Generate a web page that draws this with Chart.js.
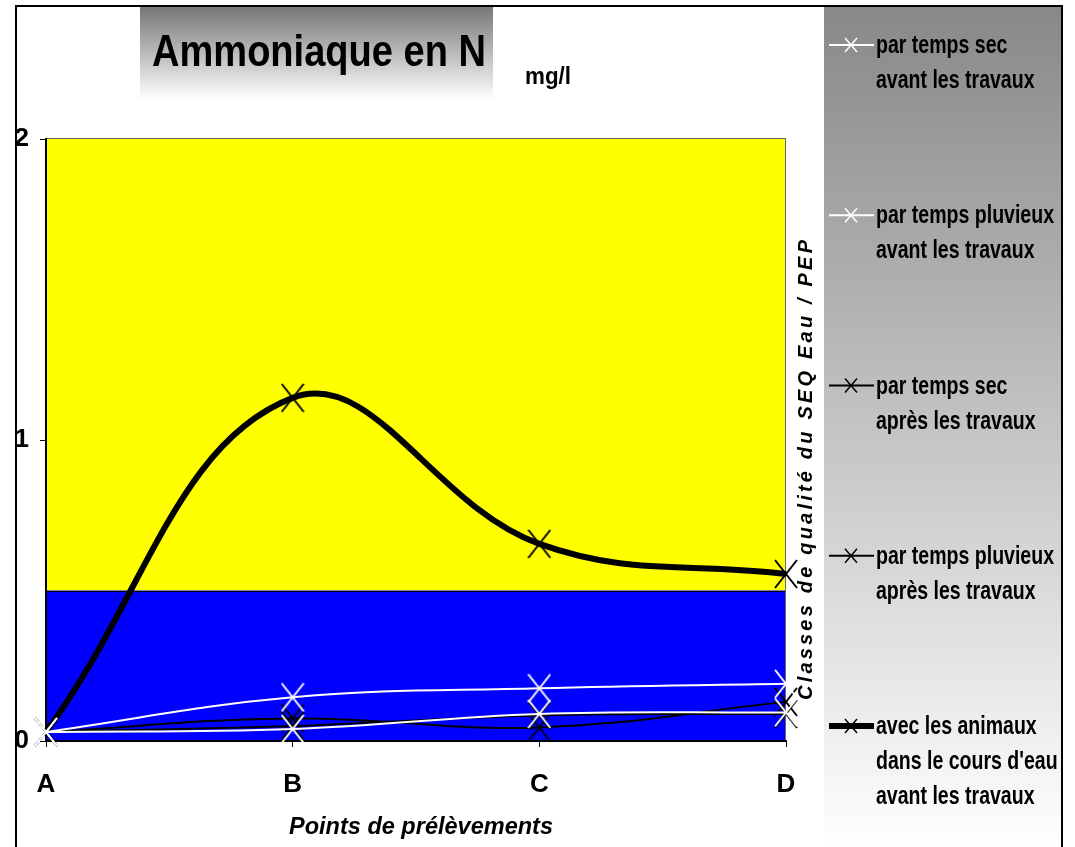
<!DOCTYPE html>
<html>
<head>
<meta charset="utf-8">
<script src="https://cdn.jsdelivr.net/npm/chart.js"></script>
<style>
  html, body { margin: 0; padding: 0; background: #fff; }
  #wrap { width: 1075px; height: 847px; }
</style>
</head>
<body>
<div id="wrap"><canvas id="c" width="1075" height="847"></canvas></div>
<script>
// données (mg/l)
const categories = ['A', 'B', 'C', 'D'];
const secAvant = [0.03, 0.145, 0.175, 0.19];
const pluvieuxAvant = [0.03, 0.04, 0.09, 0.095];
const secApres = [0.03, 0.075, 0.045, 0.13];
const pluvieuxApres = [0.03, 0.05, 0.085, 0.09];
const animauxAvant = [0.03, 1.14, 0.655, 0.555];

const seriesLabels = [
    ['par temps sec', 'avant les travaux'],
    ['par temps pluvieux', 'avant les travaux'],
    ['par temps sec', 'après les travaux'],
    ['par temps pluvieux', 'après les travaux'],
    ['avec les animaux', "dans le cours d'eau", 'avant les travaux']
];
const yTicks = [0, 1, 2];
const classBounds = [0, 0.5, 2];

const FONT = "'Liberation Sans', Arial, sans-serif";

// marqueur en X (plus haut que large)
function makeCross(w, h, color, lw) {
    const cv = document.createElement('canvas');
    cv.width = w; cv.height = h;
    const g = cv.getContext('2d');
    g.strokeStyle = color;
    g.lineWidth = lw;
    g.beginPath();
    g.moveTo(1, 1); g.lineTo(w - 1, h - 1);
    g.moveTo(w - 1, 1); g.lineTo(1, h - 1);
    g.stroke();
    return cv;
}
const whiteX = makeCross(24, 30, '#fff', 2);
const blackX = makeCross(24, 30, '#000', 2);

function drawFitted(ctx, text, x, y, width, align) {
    const w = ctx.measureText(text).width;
    ctx.save();
    ctx.translate(x, y);
    ctx.scale(width / w, 1);
    ctx.textAlign = align;
    ctx.fillText(text, 0, 0);
    ctx.restore();
}

const decorPlugin = {
    id: 'decor',
    beforeDraw(chart) {
        const ctx = chart.ctx;
        const area = chart.chartArea;
        const y = chart.scales.y;
        ctx.save();
        ctx.fillStyle = '#fff';
        ctx.fillRect(0, 0, chart.width, chart.height);

        // cadre du titre
        let g = ctx.createLinearGradient(0, 7, 0, 100);
        g.addColorStop(0, '#777');
        g.addColorStop(1, '#fff');
        ctx.fillStyle = g;
        ctx.fillRect(140, 7, 353, 93);

        // panneau de légende
        g = ctx.createLinearGradient(0, 7, 0, 847);
        g.addColorStop(0, '#888');
        g.addColorStop(1, '#fff');
        ctx.fillStyle = g;
        ctx.fillRect(824, 7, 238, 840);

        // classes de qualité
        const yMid = y.getPixelForValue(classBounds[1]);
        const yTop = y.getPixelForValue(classBounds[2]);
        const yBot = y.getPixelForValue(classBounds[0]);
        ctx.fillStyle = '#ffff00';
        ctx.fillRect(area.left, yTop, area.right - area.left, yMid - yTop);
        ctx.fillStyle = '#0000ff';
        ctx.fillRect(area.left, yMid, area.right - area.left, yBot - yMid);
        ctx.strokeStyle = '#000';
        ctx.lineWidth = 1;
        ctx.beginPath();
        ctx.moveTo(area.left, Math.round(yMid) + 0.5);
        ctx.lineTo(area.right, Math.round(yMid) + 0.5);
        ctx.stroke();
        ctx.strokeStyle = '#666';
        ctx.strokeRect(area.left + 0.5, yTop - 0.5, area.right - area.left - 1, yBot - yTop);
        ctx.restore();
    },
    afterDraw(chart) {
        const ctx = chart.ctx;
        ctx.save();
        ctx.fillStyle = '#000';
        ctx.textBaseline = 'alphabetic';

        ctx.font = 'bold 44px ' + FONT;
        drawFitted(ctx, 'Ammoniaque en N', 152, 66, 334, 'left');
        ctx.font = 'bold 24px ' + FONT;
        drawFitted(ctx, 'mg/l', 525, 84, 46, 'left');

        ctx.font = 'italic bold 24px ' + FONT;
        drawFitted(ctx, 'Points de prélèvements', 421, 834, 264, 'center');

        // titre vertical espacé
        const vt = 'Classes de qualité du SEQ Eau / PEP';
        ctx.font = 'italic bold 20px ' + FONT;
        const total = 460;
        const w0 = ctx.measureText(vt).width;
        const sp = (total - w0) / (vt.length - 1);
        ctx.translate(806, 470);
        ctx.rotate(-Math.PI / 2);
        ctx.textBaseline = 'middle';
        ctx.textAlign = 'left';
        let cx = -total / 2;
        for (const ch of vt) {
            ctx.fillText(ch, cx, 0);
            cx += ctx.measureText(ch).width + sp;
        }
        ctx.setTransform(1, 0, 0, 1, 0, 0);

        // légende
        ctx.font = 'bold 25px ' + FONT;
        ctx.textBaseline = 'alphabetic';
        const sx = 178 / ctx.measureText('par temps pluvieux').width;
        chart.data.datasets.forEach((ds, i) => {
            const base = 53 + i * 170.25;
            const my = base - 8;
            ctx.strokeStyle = ds.borderColor;
            ctx.lineWidth = ds.borderWidth;
            ctx.beginPath();
            ctx.moveTo(829, my);
            ctx.lineTo(874, my);
            ctx.stroke();
            ctx.lineWidth = 1.5;
            ctx.beginPath();
            ctx.moveTo(845, my - 7); ctx.lineTo(857, my + 7);
            ctx.moveTo(857, my - 7); ctx.lineTo(845, my + 7);
            ctx.stroke();
            ctx.fillStyle = '#000';
            seriesLabels[i].forEach((line, k) => {
                ctx.save();
                ctx.translate(876, base + k * 35);
                ctx.scale(sx, 1);
                ctx.fillText(line, 0, 0);
                ctx.restore();
            });
        });

        // cadre
        ctx.strokeStyle = '#000';
        ctx.lineWidth = 2;
        ctx.strokeRect(16, 6, 1046, 850);
        ctx.restore();
    }
};

function lineSet(label, data, color, width) {
    return {
        label: label,
        data: data,
        borderColor: color,
        borderWidth: width,
        pointStyle: color === '#fff' ? whiteX : blackX,
        pointRadius: 12,
        tension: 0.4,
        fill: false,
        clip: false
    };
}

const tickFont = { family: FONT, size: 26, weight: 'bold' };

new Chart(document.getElementById('c'), {
    type: 'line',
    data: {
        labels: categories,
        datasets: [
            lineSet(seriesLabels[0].join(' '), secAvant, '#fff', 2),
            lineSet(seriesLabels[1].join(' '), pluvieuxAvant, '#fff', 2),
            lineSet(seriesLabels[2].join(' '), secApres, '#000', 2),
            lineSet(seriesLabels[3].join(' '), pluvieuxApres, '#000', 2),
            lineSet(seriesLabels[4].join(' '), animauxAvant, '#000', 6)
        ]
    },
    options: {
        responsive: false,
        devicePixelRatio: 1,
        animation: false,
        layout: { padding: { top: 139, right: 289, bottom: 0, left: 0 } },
        plugins: {
            legend: { display: false },
            tooltip: { enabled: false }
        },
        scales: {
            x: {
                type: 'category',
                offset: false,
                afterFit: s => { s.height = 106; },
                ticks: { color: '#000', font: tickFont, padding: 22, maxRotation: 0 },
                grid: { drawOnChartArea: false, tickLength: 6, color: '#000' },
                border: { color: '#000', width: 2 }
            },
            y: {
                min: 0,
                max: 2,
                afterFit: s => { s.width = 46; },
                afterBuildTicks: s => { s.ticks = yTicks.map(v => ({ value: v })); },
                ticks: { color: '#000', font: tickFont, padding: 11 },
                grid: { drawOnChartArea: false, tickLength: 6, color: '#000' },
                border: { color: '#000', width: 2 }
            }
        }
    },
    plugins: [decorPlugin]
});
</script>
</body>
</html>
